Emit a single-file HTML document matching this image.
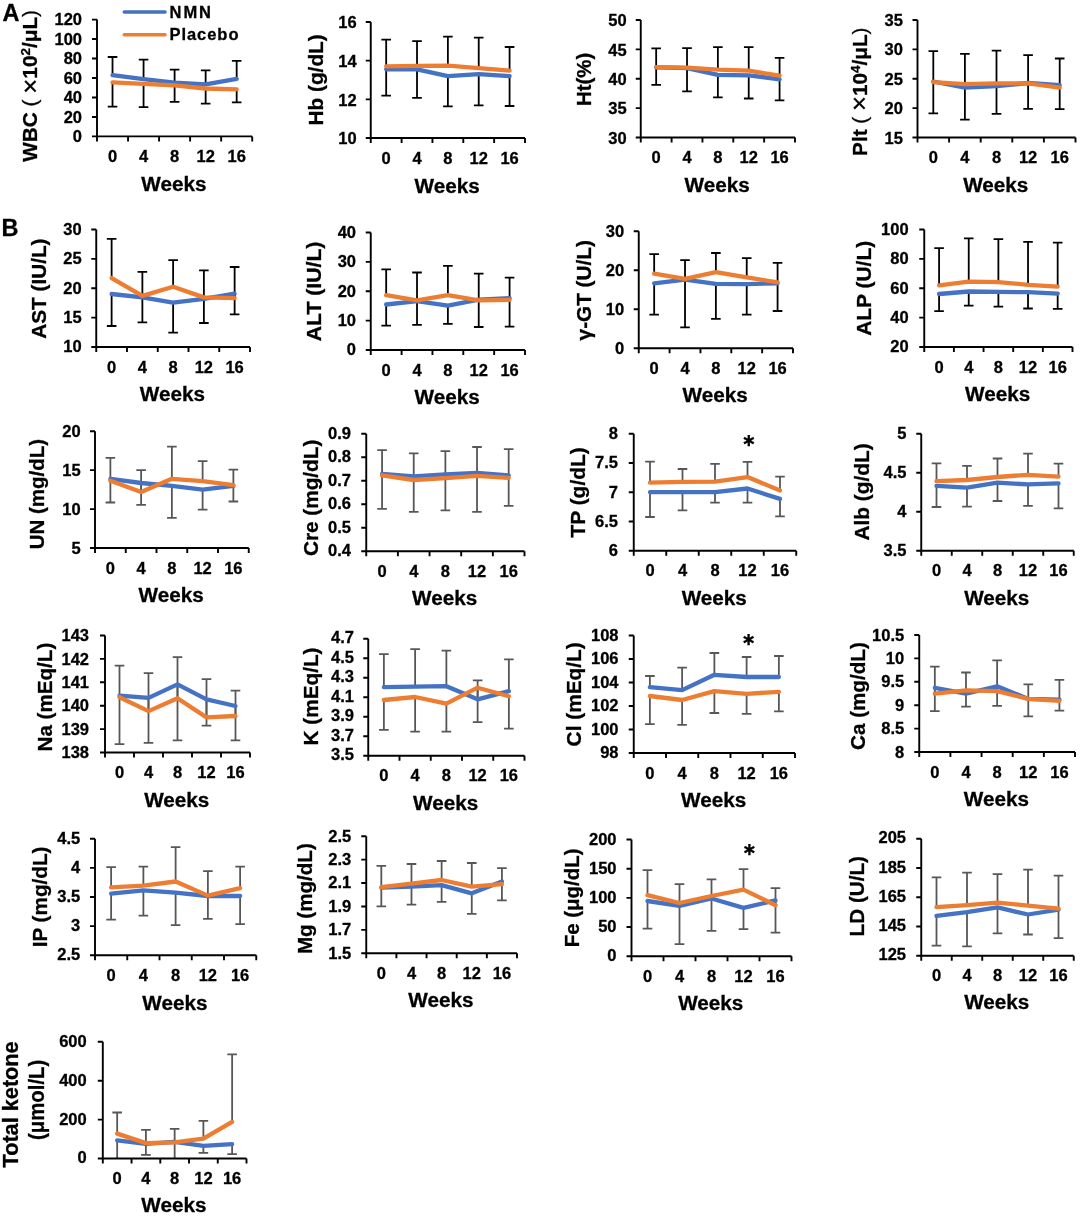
<!DOCTYPE html>
<html><head><meta charset="utf-8"><title>NMN blood tests</title>
<style>
html,body{margin:0;padding:0;background:#fff;}
body{width:1080px;height:1217px;overflow:hidden;}
svg{display:block;}
text{font-family:'Liberation Sans', Arial, sans-serif;font-weight:bold;fill:#000;stroke:#000;stroke-width:0.3px;}
</style></head><body>
<svg width="1080" height="1217" viewBox="0 0 1080 1217">
<rect width="1080" height="1217" fill="#fff"/>
<g stroke="#000" stroke-width="1.8" fill="none">
<path d="M112.52 75.2V57M107.72 57H117.32"/>
<path d="M112.52 82.3V106.7M107.72 106.7H117.32"/>
<path d="M143.56 79.2V59.6M138.76 59.6H148.36"/>
<path d="M143.56 83.8V107.2M138.76 107.2H148.36"/>
<path d="M174.6 82.6V69.6M169.8 69.6H179.4"/>
<path d="M174.6 85.3V101.9M169.8 101.9H179.4"/>
<path d="M205.64 84.4V70.4M200.84 70.4H210.44"/>
<path d="M205.64 88.5V103.6M200.84 103.6H210.44"/>
<path d="M236.68 78.9V60.8M231.88 60.8H241.48"/>
<path d="M236.68 89.3V102.3M231.88 102.3H241.48"/>
</g>
<polyline points="112.52,75.2 143.56,79.2 174.6,82.6 205.64,84.4 236.68,78.9" fill="none" stroke="#4472C4" stroke-width="4.3" stroke-linejoin="round" stroke-linecap="round"/>
<polyline points="112.52,82.3 143.56,83.8 174.6,85.3 205.64,88.5 236.68,89.3" fill="none" stroke="#ED7D31" stroke-width="4.3" stroke-linejoin="round" stroke-linecap="round"/>
<path d="M97 19.6V141.4M92 136.4H252.2M92 136.4H97M92 116.93H97M92 97.47H97M92 78H97M92 58.53H97M92 39.07H97M92 19.6H97M128.04 136.4V141.4M159.08 136.4V141.4M190.12 136.4V141.4M221.16 136.4V141.4M252.2 136.4V141.4" stroke="#000" stroke-width="1.9" fill="none"/>
<text x="82" y="142" font-size="16.5" text-anchor="end">0</text>
<text x="82" y="122.53" font-size="16.5" text-anchor="end">20</text>
<text x="82" y="103.07" font-size="16.5" text-anchor="end">40</text>
<text x="82" y="83.6" font-size="16.5" text-anchor="end">60</text>
<text x="82" y="64.13" font-size="16.5" text-anchor="end">80</text>
<text x="82" y="44.67" font-size="16.5" text-anchor="end">100</text>
<text x="82" y="25.2" font-size="16.5" text-anchor="end">120</text>
<text x="112.52" y="161.9" font-size="16.5" text-anchor="middle">0</text>
<text x="143.56" y="161.9" font-size="16.5" text-anchor="middle">4</text>
<text x="174.6" y="161.9" font-size="16.5" text-anchor="middle">8</text>
<text x="205.64" y="161.9" font-size="16.5" text-anchor="middle">12</text>
<text x="236.68" y="161.9" font-size="16.5" text-anchor="middle">16</text>
<text x="173.9" y="191.15" font-size="20.7" text-anchor="middle">Weeks</text>
<text transform="translate(37.1,161.8) rotate(-90)" font-size="20" textLength="151.8" lengthAdjust="spacingAndGlyphs">WBC <tspan font-weight="normal">(</tspan> <tspan font-weight="normal" font-size="25" dy="1.5">×</tspan><tspan dy="-1.5">10</tspan><tspan font-size="13" dy="-7">2</tspan><tspan dy="7">/μL</tspan><tspan font-weight="normal">)</tspan></text>
<g stroke="#000" stroke-width="1.8" fill="none">
<path d="M386.18 66.3V39.6M381.38 39.6H390.98"/>
<path d="M386.18 69.3V95.6M381.38 95.6H390.98"/>
<path d="M417.02 65.9V41.1M412.22 41.1H421.82"/>
<path d="M417.02 69.3V97.9M412.22 97.9H421.82"/>
<path d="M447.88 65.6V36.7M443.07 36.7H452.68"/>
<path d="M447.88 76.2V106.3M443.07 106.3H452.68"/>
<path d="M478.73 68.2V37.7M473.93 37.7H483.53"/>
<path d="M478.73 74.1V105.3M473.93 105.3H483.53"/>
<path d="M509.58 70.7V47M504.78 47H514.38"/>
<path d="M509.58 76.2V106M504.78 106H514.38"/>
</g>
<polyline points="386.18,69.3 417.02,69.3 447.88,76.2 478.73,74.1 509.58,76.2" fill="none" stroke="#4472C4" stroke-width="4.3" stroke-linejoin="round" stroke-linecap="round"/>
<polyline points="386.18,66.3 417.02,65.9 447.88,65.6 478.73,68.2 509.58,70.7" fill="none" stroke="#ED7D31" stroke-width="4.3" stroke-linejoin="round" stroke-linecap="round"/>
<path d="M370.75 22V143M365.75 138H525M365.75 138H370.75M365.75 99.33H370.75M365.75 60.67H370.75M365.75 22H370.75M401.6 138V143M432.45 138V143M463.3 138V143M494.15 138V143M525 138V143" stroke="#000" stroke-width="1.9" fill="none"/>
<text x="356.7" y="144.4" font-size="16.5" text-anchor="end">10</text>
<text x="356.7" y="105.73" font-size="16.5" text-anchor="end">12</text>
<text x="356.7" y="67.07" font-size="16.5" text-anchor="end">14</text>
<text x="356.7" y="28.4" font-size="16.5" text-anchor="end">16</text>
<text x="386.18" y="163.5" font-size="16.5" text-anchor="middle">0</text>
<text x="417.02" y="163.5" font-size="16.5" text-anchor="middle">4</text>
<text x="447.88" y="163.5" font-size="16.5" text-anchor="middle">8</text>
<text x="478.73" y="163.5" font-size="16.5" text-anchor="middle">12</text>
<text x="509.58" y="163.5" font-size="16.5" text-anchor="middle">16</text>
<text x="447.18" y="193.25" font-size="20.7" text-anchor="middle">Weeks</text>
<text transform="translate(323.1,125.5) rotate(-90)" font-size="20" textLength="91.2" lengthAdjust="spacingAndGlyphs">Hb (g/dL)</text>
<g stroke="#000" stroke-width="1.8" fill="none">
<path d="M656.17 67.1V48.4M651.38 48.4H660.97"/>
<path d="M656.17 67.4V84.9M651.38 84.9H660.97"/>
<path d="M687.02 67.7V48.1M682.23 48.1H691.82"/>
<path d="M687.02 68.1V91.4M682.23 91.4H691.82"/>
<path d="M717.88 69.6V47.1M713.08 47.1H722.67"/>
<path d="M717.88 74.8V97.3M713.08 97.3H722.67"/>
<path d="M748.73 70.7V47.1M743.93 47.1H753.52"/>
<path d="M748.73 75.3V98.5M743.93 98.5H753.52"/>
<path d="M779.58 75.6V57.8M774.78 57.8H784.38"/>
<path d="M779.58 79.3V100.3M774.78 100.3H784.38"/>
</g>
<polyline points="656.17,67.4 687.02,68.1 717.88,74.8 748.73,75.3 779.58,79.3" fill="none" stroke="#4472C4" stroke-width="4.3" stroke-linejoin="round" stroke-linecap="round"/>
<polyline points="656.17,67.1 687.02,67.7 717.88,69.6 748.73,70.7 779.58,75.6" fill="none" stroke="#ED7D31" stroke-width="4.3" stroke-linejoin="round" stroke-linecap="round"/>
<path d="M640.75 20V142.5M635.75 137.5H795M635.75 137.5H640.75M635.75 108.12H640.75M635.75 78.75H640.75M635.75 49.38H640.75M635.75 20H640.75M671.6 137.5V142.5M702.45 137.5V142.5M733.3 137.5V142.5M764.15 137.5V142.5M795 137.5V142.5" stroke="#000" stroke-width="1.9" fill="none"/>
<text x="626.7" y="143.8" font-size="16.5" text-anchor="end">30</text>
<text x="626.7" y="114.42" font-size="16.5" text-anchor="end">35</text>
<text x="626.7" y="85.05" font-size="16.5" text-anchor="end">40</text>
<text x="626.7" y="55.68" font-size="16.5" text-anchor="end">45</text>
<text x="626.7" y="26.3" font-size="16.5" text-anchor="end">50</text>
<text x="656.17" y="163" font-size="16.5" text-anchor="middle">0</text>
<text x="687.02" y="163" font-size="16.5" text-anchor="middle">4</text>
<text x="717.88" y="163" font-size="16.5" text-anchor="middle">8</text>
<text x="748.73" y="163" font-size="16.5" text-anchor="middle">12</text>
<text x="779.58" y="163" font-size="16.5" text-anchor="middle">16</text>
<text x="717.17" y="192.05" font-size="20.7" text-anchor="middle">Weeks</text>
<text transform="translate(591.3,105.9) rotate(-90)" font-size="20" textLength="53.1" lengthAdjust="spacingAndGlyphs">Ht(%)</text>
<g stroke="#000" stroke-width="1.8" fill="none">
<path d="M933.3 82.2V51.1M928.5 51.1H938.1"/>
<path d="M933.3 81.5V113.3M928.5 113.3H938.1"/>
<path d="M964.9 84.1V53.8M960.1 53.8H969.7"/>
<path d="M964.9 87.7V119.6M960.1 119.6H969.7"/>
<path d="M996.5 83.3V50.7M991.7 50.7H1001.3"/>
<path d="M996.5 86.2V113.8M991.7 113.8H1001.3"/>
<path d="M1028.1 83.4V55.1M1023.3 55.1H1032.9"/>
<path d="M1028.1 83V108.9M1023.3 108.9H1032.9"/>
<path d="M1059.7 87.7V58.5M1054.9 58.5H1064.5"/>
<path d="M1059.7 85.2V109.2M1054.9 109.2H1064.5"/>
</g>
<polyline points="933.3,81.5 964.9,87.7 996.5,86.2 1028.1,83 1059.7,85.2" fill="none" stroke="#4472C4" stroke-width="4.3" stroke-linejoin="round" stroke-linecap="round"/>
<polyline points="933.3,82.2 964.9,84.1 996.5,83.3 1028.1,83.4 1059.7,87.7" fill="none" stroke="#ED7D31" stroke-width="4.3" stroke-linejoin="round" stroke-linecap="round"/>
<path d="M917.5 20V142.5M912.5 137.5H1075.5M912.5 137.5H917.5M912.5 108.12H917.5M912.5 78.75H917.5M912.5 49.38H917.5M912.5 20H917.5M949.1 137.5V142.5M980.7 137.5V142.5M1012.3 137.5V142.5M1043.9 137.5V142.5M1075.5 137.5V142.5" stroke="#000" stroke-width="1.9" fill="none"/>
<text x="902.95" y="143.6" font-size="16.5" text-anchor="end">15</text>
<text x="902.95" y="114.22" font-size="16.5" text-anchor="end">20</text>
<text x="902.95" y="84.85" font-size="16.5" text-anchor="end">25</text>
<text x="902.95" y="55.48" font-size="16.5" text-anchor="end">30</text>
<text x="902.95" y="26.1" font-size="16.5" text-anchor="end">35</text>
<text x="933.3" y="163" font-size="16.5" text-anchor="middle">0</text>
<text x="964.9" y="163" font-size="16.5" text-anchor="middle">4</text>
<text x="996.5" y="163" font-size="16.5" text-anchor="middle">8</text>
<text x="1028.1" y="163" font-size="16.5" text-anchor="middle">12</text>
<text x="1059.7" y="163" font-size="16.5" text-anchor="middle">16</text>
<text x="995.8" y="192.05" font-size="20.7" text-anchor="middle">Weeks</text>
<text transform="translate(866.6,155.9) rotate(-90)" font-size="20" textLength="128.4" lengthAdjust="spacingAndGlyphs">Plt <tspan font-weight="normal">(</tspan> <tspan font-weight="normal" font-size="25" dy="1.5">×</tspan><tspan dy="-1.5">10</tspan><tspan font-size="13" dy="-7">4</tspan><tspan dy="7">/μL</tspan><tspan font-weight="normal">)</tspan></text>
<g stroke="#000" stroke-width="1.8" fill="none">
<path d="M111.62 278.1V238.9M106.83 238.9H116.42"/>
<path d="M111.62 294V326M106.83 326H116.42"/>
<path d="M142.38 295.9V271.9M137.57 271.9H147.18"/>
<path d="M142.38 297.4V322.3M137.57 322.3H147.18"/>
<path d="M173.12 286.7V260.1M168.32 260.1H177.93"/>
<path d="M173.12 302.6V332.7M168.32 332.7H177.93"/>
<path d="M203.88 297.4V270.4M199.07 270.4H208.68"/>
<path d="M203.88 298.9V323M199.07 323H208.68"/>
<path d="M234.62 298.1V267M229.82 267H239.43"/>
<path d="M234.62 293.7V314.4M229.82 314.4H239.43"/>
</g>
<polyline points="111.62,294 142.38,297.4 173.12,302.6 203.88,298.9 234.62,293.7" fill="none" stroke="#4472C4" stroke-width="4.3" stroke-linejoin="round" stroke-linecap="round"/>
<polyline points="111.62,278.1 142.38,295.9 173.12,286.7 203.88,297.4 234.62,298.1" fill="none" stroke="#ED7D31" stroke-width="4.3" stroke-linejoin="round" stroke-linecap="round"/>
<path d="M96.25 229.5V352M91.25 347H250M91.25 347H96.25M91.25 317.62H96.25M91.25 288.25H96.25M91.25 258.88H96.25M91.25 229.5H96.25M127 347V352M157.75 347V352M188.5 347V352M219.25 347V352M250 347V352" stroke="#000" stroke-width="1.9" fill="none"/>
<text x="81.7" y="352.4" font-size="16.5" text-anchor="end">10</text>
<text x="81.7" y="323.03" font-size="16.5" text-anchor="end">15</text>
<text x="81.7" y="293.65" font-size="16.5" text-anchor="end">20</text>
<text x="81.7" y="264.28" font-size="16.5" text-anchor="end">25</text>
<text x="81.7" y="234.9" font-size="16.5" text-anchor="end">30</text>
<text x="111.62" y="372.5" font-size="16.5" text-anchor="middle">0</text>
<text x="142.38" y="372.5" font-size="16.5" text-anchor="middle">4</text>
<text x="173.12" y="372.5" font-size="16.5" text-anchor="middle">8</text>
<text x="203.88" y="372.5" font-size="16.5" text-anchor="middle">12</text>
<text x="234.62" y="372.5" font-size="16.5" text-anchor="middle">16</text>
<text x="172.43" y="400.65" font-size="20.7" text-anchor="middle">Weeks</text>
<text transform="translate(46,338.7) rotate(-90)" font-size="20" textLength="100.2" lengthAdjust="spacingAndGlyphs">AST (IU/L)</text>
<g stroke="#000" stroke-width="1.8" fill="none">
<path d="M386.18 295.2V269.3M381.38 269.3H390.98"/>
<path d="M386.18 304.5V325.6M381.38 325.6H390.98"/>
<path d="M417.02 300.4V272.5M412.22 272.5H421.82"/>
<path d="M417.02 301.1V324.8M412.22 324.8H421.82"/>
<path d="M447.88 295.2V265.9M443.07 265.9H452.68"/>
<path d="M447.88 305.6V323.8M443.07 323.8H452.68"/>
<path d="M478.73 300.4V273.7M473.93 273.7H483.53"/>
<path d="M478.73 299.6V327M473.93 327H483.53"/>
<path d="M509.58 299.9V277.7M504.78 277.7H514.38"/>
<path d="M509.58 298.1V326.6M504.78 326.6H514.38"/>
</g>
<polyline points="386.18,304.5 417.02,301.1 447.88,305.6 478.73,299.6 509.58,298.1" fill="none" stroke="#4472C4" stroke-width="4.3" stroke-linejoin="round" stroke-linecap="round"/>
<polyline points="386.18,295.2 417.02,300.4 447.88,295.2 478.73,300.4 509.58,299.9" fill="none" stroke="#ED7D31" stroke-width="4.3" stroke-linejoin="round" stroke-linecap="round"/>
<path d="M370.75 232.5V355M365.75 350H525M365.75 350H370.75M365.75 320.62H370.75M365.75 291.25H370.75M365.75 261.88H370.75M365.75 232.5H370.75M401.6 350V355M432.45 350V355M463.3 350V355M494.15 350V355M525 350V355" stroke="#000" stroke-width="1.9" fill="none"/>
<text x="356.05" y="355.4" font-size="16.5" text-anchor="end">0</text>
<text x="356.05" y="326.03" font-size="16.5" text-anchor="end">10</text>
<text x="356.05" y="296.65" font-size="16.5" text-anchor="end">20</text>
<text x="356.05" y="267.28" font-size="16.5" text-anchor="end">30</text>
<text x="356.05" y="237.9" font-size="16.5" text-anchor="end">40</text>
<text x="386.18" y="375.5" font-size="16.5" text-anchor="middle">0</text>
<text x="417.02" y="375.5" font-size="16.5" text-anchor="middle">4</text>
<text x="447.88" y="375.5" font-size="16.5" text-anchor="middle">8</text>
<text x="478.73" y="375.5" font-size="16.5" text-anchor="middle">12</text>
<text x="509.58" y="375.5" font-size="16.5" text-anchor="middle">16</text>
<text x="447.18" y="404.05" font-size="20.7" text-anchor="middle">Weeks</text>
<text transform="translate(321,341.3) rotate(-90)" font-size="20" textLength="99.7" lengthAdjust="spacingAndGlyphs">ALT (IU/L)</text>
<g stroke="#000" stroke-width="1.8" fill="none">
<path d="M654.17 273.7V254.1M649.38 254.1H658.97"/>
<path d="M654.17 283.3V314.7M649.38 314.7H658.97"/>
<path d="M685.02 278.9V260.1M680.23 260.1H689.82"/>
<path d="M685.02 279.6V327.3M680.23 327.3H689.82"/>
<path d="M715.88 272.2V253M711.08 253H720.67"/>
<path d="M715.88 283.8V318.9M711.08 318.9H720.67"/>
<path d="M746.73 277.4V258.1M741.93 258.1H751.52"/>
<path d="M746.73 284.1V314.7M741.93 314.7H751.52"/>
<path d="M777.58 282.3V262.9M772.78 262.9H782.38"/>
<path d="M777.58 283.3V311M772.78 311H782.38"/>
</g>
<polyline points="654.17,283.3 685.02,279.6 715.88,283.8 746.73,284.1 777.58,283.3" fill="none" stroke="#4472C4" stroke-width="4.3" stroke-linejoin="round" stroke-linecap="round"/>
<polyline points="654.17,273.7 685.02,278.9 715.88,272.2 746.73,277.4 777.58,282.3" fill="none" stroke="#ED7D31" stroke-width="4.3" stroke-linejoin="round" stroke-linecap="round"/>
<path d="M638.75 231.25V353.25M633.75 348.25H793M633.75 348.25H638.75M633.75 309.25H638.75M633.75 270.25H638.75M633.75 231.25H638.75M669.6 348.25V353.25M700.45 348.25V353.25M731.3 348.25V353.25M762.15 348.25V353.25M793 348.25V353.25" stroke="#000" stroke-width="1.9" fill="none"/>
<text x="624.2" y="354.35" font-size="16.5" text-anchor="end">0</text>
<text x="624.2" y="315.35" font-size="16.5" text-anchor="end">10</text>
<text x="624.2" y="276.35" font-size="16.5" text-anchor="end">20</text>
<text x="624.2" y="237.35" font-size="16.5" text-anchor="end">30</text>
<text x="654.17" y="373.75" font-size="16.5" text-anchor="middle">0</text>
<text x="685.02" y="373.75" font-size="16.5" text-anchor="middle">4</text>
<text x="715.88" y="373.75" font-size="16.5" text-anchor="middle">8</text>
<text x="746.73" y="373.75" font-size="16.5" text-anchor="middle">12</text>
<text x="777.58" y="373.75" font-size="16.5" text-anchor="middle">16</text>
<text x="715.17" y="402.1" font-size="20.7" text-anchor="middle">Weeks</text>
<text transform="translate(591,340.4) rotate(-90)" font-size="20" textLength="100.2" lengthAdjust="spacingAndGlyphs">γ-GT (U/L)</text>
<g stroke="#000" stroke-width="1.8" fill="none">
<path d="M939.08 285.3V248.1M934.28 248.1H943.88"/>
<path d="M939.08 294V311.2M934.28 311.2H943.88"/>
<path d="M968.73 281.6V238.4M963.93 238.4H973.52"/>
<path d="M968.73 291.5V305.6M963.93 305.6H973.52"/>
<path d="M998.38 282.1V239.2M993.58 239.2H1003.17"/>
<path d="M998.38 291.9V306.7M993.58 306.7H1003.17"/>
<path d="M1028.03 284.8V241.9M1023.23 241.9H1032.83"/>
<path d="M1028.03 292.2V308.5M1023.23 308.5H1032.83"/>
<path d="M1057.67 286.6V242.6M1052.88 242.6H1062.47"/>
<path d="M1057.67 293.7V308.8M1052.88 308.8H1062.47"/>
</g>
<polyline points="939.08,294 968.73,291.5 998.38,291.9 1028.03,292.2 1057.67,293.7" fill="none" stroke="#4472C4" stroke-width="4.3" stroke-linejoin="round" stroke-linecap="round"/>
<polyline points="939.08,285.3 968.73,281.6 998.38,282.1 1028.03,284.8 1057.67,286.6" fill="none" stroke="#ED7D31" stroke-width="4.3" stroke-linejoin="round" stroke-linecap="round"/>
<path d="M924.25 229.5V352M919.25 347H1072.5M919.25 347H924.25M919.25 317.62H924.25M919.25 288.25H924.25M919.25 258.88H924.25M919.25 229.5H924.25M953.9 347V352M983.55 347V352M1013.2 347V352M1042.85 347V352M1072.5 347V352" stroke="#000" stroke-width="1.9" fill="none"/>
<text x="908.6" y="352.4" font-size="16.5" text-anchor="end">20</text>
<text x="908.6" y="323.03" font-size="16.5" text-anchor="end">40</text>
<text x="908.6" y="293.65" font-size="16.5" text-anchor="end">60</text>
<text x="908.6" y="264.28" font-size="16.5" text-anchor="end">80</text>
<text x="908.6" y="234.9" font-size="16.5" text-anchor="end">100</text>
<text x="939.08" y="372.5" font-size="16.5" text-anchor="middle">0</text>
<text x="968.73" y="372.5" font-size="16.5" text-anchor="middle">4</text>
<text x="998.38" y="372.5" font-size="16.5" text-anchor="middle">8</text>
<text x="1028.03" y="372.5" font-size="16.5" text-anchor="middle">12</text>
<text x="1057.67" y="372.5" font-size="16.5" text-anchor="middle">16</text>
<text x="997.67" y="400.65" font-size="20.7" text-anchor="middle">Weeks</text>
<text transform="translate(871,335.8) rotate(-90)" font-size="20" textLength="95" lengthAdjust="spacingAndGlyphs">ALP (U/L)</text>
<g stroke="#575757" stroke-width="1.8" fill="none">
<path d="M110.38 480.7V457.8M105.58 457.8H115.17"/>
<path d="M110.38 478.8V502.5M105.58 502.5H115.17"/>
<path d="M141.12 491.9V470.1M136.32 470.1H145.93"/>
<path d="M141.12 483V504.9M136.32 504.9H145.93"/>
<path d="M171.88 478.8V446.7M167.07 446.7H176.68"/>
<path d="M171.88 485.9V517.8M167.07 517.8H176.68"/>
<path d="M202.62 481.2V461.2M197.82 461.2H207.43"/>
<path d="M202.62 489.6V509.6M197.82 509.6H207.43"/>
<path d="M233.38 485.2V469.6M228.57 469.6H238.18"/>
<path d="M233.38 485.9V501.5M228.57 501.5H238.18"/>
</g>
<polyline points="110.38,478.8 141.12,483 171.88,485.9 202.62,489.6 233.38,485.9" fill="none" stroke="#4472C4" stroke-width="4.3" stroke-linejoin="round" stroke-linecap="round"/>
<polyline points="110.38,480.7 141.12,491.9 171.88,478.8 202.62,481.2 233.38,485.2" fill="none" stroke="#ED7D31" stroke-width="4.3" stroke-linejoin="round" stroke-linecap="round"/>
<path d="M95 431.25V553M90 548H248.75M90 548H95M90 509.08H95M90 470.17H95M90 431.25H95M125.75 548V553M156.5 548V553M187.25 548V553M218 548V553M248.75 548V553" stroke="#000" stroke-width="1.9" fill="none"/>
<text x="80.7" y="553.7" font-size="16.5" text-anchor="end">5</text>
<text x="80.7" y="514.78" font-size="16.5" text-anchor="end">10</text>
<text x="80.7" y="475.87" font-size="16.5" text-anchor="end">15</text>
<text x="80.7" y="436.95" font-size="16.5" text-anchor="end">20</text>
<text x="110.38" y="573.5" font-size="16.5" text-anchor="middle">0</text>
<text x="141.12" y="573.5" font-size="16.5" text-anchor="middle">4</text>
<text x="171.88" y="573.5" font-size="16.5" text-anchor="middle">8</text>
<text x="202.62" y="573.5" font-size="16.5" text-anchor="middle">12</text>
<text x="233.38" y="573.5" font-size="16.5" text-anchor="middle">16</text>
<text x="171.18" y="602.25" font-size="20.7" text-anchor="middle">Weeks</text>
<text transform="translate(43.7,549.3) rotate(-90)" font-size="20" textLength="110.4" lengthAdjust="spacingAndGlyphs">UN (mg/dL)</text>
<g stroke="#575757" stroke-width="1.8" fill="none">
<path d="M382.07 475.3V450.1M377.27 450.1H386.88"/>
<path d="M382.07 473.8V508.9M377.27 508.9H386.88"/>
<path d="M413.73 480V453.3M408.93 453.3H418.53"/>
<path d="M413.73 476.3V511.9M408.93 511.9H418.53"/>
<path d="M445.38 478.2V451.1M440.57 451.1H450.18"/>
<path d="M445.38 474.4V510.4M440.57 510.4H450.18"/>
<path d="M477.02 475.9V447M472.22 447H481.82"/>
<path d="M477.02 472.9V511.9M472.22 511.9H481.82"/>
<path d="M508.67 477.8V449.2M503.87 449.2H513.47"/>
<path d="M508.67 475.3V505.9M503.87 505.9H513.47"/>
</g>
<polyline points="382.07,473.8 413.73,476.3 445.38,474.4 477.02,472.9 508.67,475.3" fill="none" stroke="#4472C4" stroke-width="4.3" stroke-linejoin="round" stroke-linecap="round"/>
<polyline points="382.07,475.3 413.73,480 445.38,478.2 477.02,475.9 508.67,477.8" fill="none" stroke="#ED7D31" stroke-width="4.3" stroke-linejoin="round" stroke-linecap="round"/>
<path d="M366.25 433.75V556.25M361.25 551.25H524.5M361.25 551.25H366.25M361.25 527.75H366.25M361.25 504.25H366.25M361.25 480.75H366.25M361.25 457.25H366.25M361.25 433.75H366.25M397.9 551.25V556.25M429.55 551.25V556.25M461.2 551.25V556.25M492.85 551.25V556.25M524.5 551.25V556.25" stroke="#000" stroke-width="1.9" fill="none"/>
<text x="351.05" y="556.15" font-size="16.5" text-anchor="end">0.4</text>
<text x="351.05" y="532.65" font-size="16.5" text-anchor="end">0.5</text>
<text x="351.05" y="509.15" font-size="16.5" text-anchor="end">0.6</text>
<text x="351.05" y="485.65" font-size="16.5" text-anchor="end">0.7</text>
<text x="351.05" y="462.15" font-size="16.5" text-anchor="end">0.8</text>
<text x="351.05" y="438.65" font-size="16.5" text-anchor="end">0.9</text>
<text x="382.07" y="576.75" font-size="16.5" text-anchor="middle">0</text>
<text x="413.73" y="576.75" font-size="16.5" text-anchor="middle">4</text>
<text x="445.38" y="576.75" font-size="16.5" text-anchor="middle">8</text>
<text x="477.02" y="576.75" font-size="16.5" text-anchor="middle">12</text>
<text x="508.67" y="576.75" font-size="16.5" text-anchor="middle">16</text>
<text x="444.68" y="604.8" font-size="20.7" text-anchor="middle">Weeks</text>
<text transform="translate(318.2,556.1) rotate(-90)" font-size="20" textLength="116.5" lengthAdjust="spacingAndGlyphs">Cre (mg/dL)</text>
<g stroke="#575757" stroke-width="1.8" fill="none">
<path d="M650 482.6V461.6M645.2 461.6H654.8"/>
<path d="M650 492.2V517M645.2 517H654.8"/>
<path d="M682.5 481.9V469M677.7 469H687.3"/>
<path d="M682.5 492.2V510.4M677.7 510.4H687.3"/>
<path d="M715 481.6V463.8M710.2 463.8H719.8"/>
<path d="M715 492.2V502.6M710.2 502.6H719.8"/>
<path d="M747.5 477.1V461.9M742.7 461.9H752.3"/>
<path d="M747.5 488.5V502.6M742.7 502.6H752.3"/>
<path d="M780 490.4V476.7M775.2 476.7H784.8"/>
<path d="M780 498.9V516.4M775.2 516.4H784.8"/>
</g>
<polyline points="650,492.2 682.5,492.2 715,492.2 747.5,488.5 780,498.9" fill="none" stroke="#4472C4" stroke-width="4.3" stroke-linejoin="round" stroke-linecap="round"/>
<polyline points="650,482.6 682.5,481.9 715,481.6 747.5,477.1 780,490.4" fill="none" stroke="#ED7D31" stroke-width="4.3" stroke-linejoin="round" stroke-linecap="round"/>
<path d="M633.75 433.75V555.8M628.75 550.8H796.25M628.75 550.8H633.75M628.75 521.54H633.75M628.75 492.27H633.75M628.75 463.01H633.75M628.75 433.75H633.75M666.25 550.8V555.8M698.75 550.8V555.8M731.25 550.8V555.8M763.75 550.8V555.8M796.25 550.8V555.8" stroke="#000" stroke-width="1.9" fill="none"/>
<text x="617.95" y="556.1" font-size="16.5" text-anchor="end">6</text>
<text x="617.95" y="526.84" font-size="16.5" text-anchor="end">6.5</text>
<text x="617.95" y="497.57" font-size="16.5" text-anchor="end">7</text>
<text x="617.95" y="468.31" font-size="16.5" text-anchor="end">7.5</text>
<text x="617.95" y="439.05" font-size="16.5" text-anchor="end">8</text>
<text x="650" y="576.3" font-size="16.5" text-anchor="middle">0</text>
<text x="682.5" y="576.3" font-size="16.5" text-anchor="middle">4</text>
<text x="715" y="576.3" font-size="16.5" text-anchor="middle">8</text>
<text x="747.5" y="576.3" font-size="16.5" text-anchor="middle">12</text>
<text x="780" y="576.3" font-size="16.5" text-anchor="middle">16</text>
<text x="714.3" y="604.75" font-size="20.7" text-anchor="middle">Weeks</text>
<text transform="translate(585.4,537.5) rotate(-90)" font-size="20" textLength="90.2" lengthAdjust="spacingAndGlyphs">TP (g/dL)</text>
<text x="749" y="445.9" font-size="17.5" text-anchor="middle" style="font-family:'DejaVu Sans',sans-serif">∗</text>
<g stroke="#575757" stroke-width="1.8" fill="none">
<path d="M936.5 481.2V463.4M931.7 463.4H941.3"/>
<path d="M936.5 485.9V507M931.7 507H941.3"/>
<path d="M967 480V465.9M962.2 465.9H971.8"/>
<path d="M967 487.7V506.7M962.2 506.7H971.8"/>
<path d="M997.5 477V458.5M992.7 458.5H1002.3"/>
<path d="M997.5 482.7V501M992.7 501H1002.3"/>
<path d="M1028 474.8V453.6M1023.2 453.6H1032.8"/>
<path d="M1028 484.4V505.9M1023.2 505.9H1032.8"/>
<path d="M1058.5 476.7V463.7M1053.7 463.7H1063.3"/>
<path d="M1058.5 483.4V508.4M1053.7 508.4H1063.3"/>
</g>
<polyline points="936.5,485.9 967,487.7 997.5,482.7 1028,484.4 1058.5,483.4" fill="none" stroke="#4472C4" stroke-width="4.3" stroke-linejoin="round" stroke-linecap="round"/>
<polyline points="936.5,481.2 967,480 997.5,477 1028,474.8 1058.5,476.7" fill="none" stroke="#ED7D31" stroke-width="4.3" stroke-linejoin="round" stroke-linecap="round"/>
<path d="M921.25 433.75V555.75M916.25 550.75H1073.75M916.25 550.75H921.25M916.25 511.75H921.25M916.25 472.75H921.25M916.25 433.75H921.25M951.75 550.75V555.75M982.25 550.75V555.75M1012.75 550.75V555.75M1043.25 550.75V555.75M1073.75 550.75V555.75" stroke="#000" stroke-width="1.9" fill="none"/>
<text x="906.55" y="555.95" font-size="16.5" text-anchor="end">3.5</text>
<text x="906.55" y="516.95" font-size="16.5" text-anchor="end">4</text>
<text x="906.55" y="477.95" font-size="16.5" text-anchor="end">4.5</text>
<text x="906.55" y="438.95" font-size="16.5" text-anchor="end">5</text>
<text x="936.5" y="576.25" font-size="16.5" text-anchor="middle">0</text>
<text x="967" y="576.25" font-size="16.5" text-anchor="middle">4</text>
<text x="997.5" y="576.25" font-size="16.5" text-anchor="middle">8</text>
<text x="1028" y="576.25" font-size="16.5" text-anchor="middle">12</text>
<text x="1058.5" y="576.25" font-size="16.5" text-anchor="middle">16</text>
<text x="996.8" y="604.8" font-size="20.7" text-anchor="middle">Weeks</text>
<text transform="translate(868.7,540.5) rotate(-90)" font-size="20" textLength="97.1" lengthAdjust="spacingAndGlyphs">Alb (g/dL)</text>
<g stroke="#575757" stroke-width="1.8" fill="none">
<path d="M119.5 697.2V665.6M114.7 665.6H124.3"/>
<path d="M119.5 695.6V744.2M114.7 744.2H124.3"/>
<path d="M148.5 711.1V673.2M143.7 673.2H153.3"/>
<path d="M148.5 697.9V742.8M143.7 742.8H153.3"/>
<path d="M177.5 698.3V657.2M172.7 657.2H182.3"/>
<path d="M177.5 684.4V740.3M172.7 740.3H182.3"/>
<path d="M206.5 717.4V679.2M201.7 679.2H211.3"/>
<path d="M206.5 699.3V725.7M201.7 725.7H211.3"/>
<path d="M235.5 716V690.6M230.7 690.6H240.3"/>
<path d="M235.5 706V740.3M230.7 740.3H240.3"/>
</g>
<polyline points="119.5,695.6 148.5,697.9 177.5,684.4 206.5,699.3 235.5,706" fill="none" stroke="#4472C4" stroke-width="4.3" stroke-linejoin="round" stroke-linecap="round"/>
<polyline points="119.5,697.2 148.5,711.1 177.5,698.3 206.5,717.4 235.5,716" fill="none" stroke="#ED7D31" stroke-width="4.3" stroke-linejoin="round" stroke-linecap="round"/>
<path d="M105 635.5V757.5M100 752.5H250M100 752.5H105M100 729.1H105M100 705.7H105M100 682.3H105M100 658.9H105M100 635.5H105M134 752.5V757.5M163 752.5V757.5M192 752.5V757.5M221 752.5V757.5M250 752.5V757.5" stroke="#000" stroke-width="1.9" fill="none"/>
<text x="89.05" y="758.1" font-size="16.5" text-anchor="end">138</text>
<text x="89.05" y="734.7" font-size="16.5" text-anchor="end">139</text>
<text x="89.05" y="711.3" font-size="16.5" text-anchor="end">140</text>
<text x="89.05" y="687.9" font-size="16.5" text-anchor="end">141</text>
<text x="89.05" y="664.5" font-size="16.5" text-anchor="end">142</text>
<text x="89.05" y="641.1" font-size="16.5" text-anchor="end">143</text>
<text x="119.5" y="778" font-size="16.5" text-anchor="middle">0</text>
<text x="148.5" y="778" font-size="16.5" text-anchor="middle">4</text>
<text x="177.5" y="778" font-size="16.5" text-anchor="middle">8</text>
<text x="206.5" y="778" font-size="16.5" text-anchor="middle">12</text>
<text x="235.5" y="778" font-size="16.5" text-anchor="middle">16</text>
<text x="176.8" y="806.65" font-size="20.7" text-anchor="middle">Weeks</text>
<text transform="translate(52.1,751.5) rotate(-90)" font-size="20" textLength="108.8" lengthAdjust="spacingAndGlyphs">Na (mEq/L)</text>
<g stroke="#575757" stroke-width="1.8" fill="none">
<path d="M383.88 687.1V654.1M379.07 654.1H388.68"/>
<path d="M383.88 700V729.9M379.07 729.9H388.68"/>
<path d="M415.12 686.7V649.2M410.32 649.2H419.93"/>
<path d="M415.12 697V731.6M410.32 731.6H419.93"/>
<path d="M446.38 686.2V650.7M441.57 650.7H451.18"/>
<path d="M446.38 703.7V731.6M441.57 731.6H451.18"/>
<path d="M477.62 699.3V680.4M472.82 680.4H482.43"/>
<path d="M477.62 687.7V722.2M472.82 722.2H482.43"/>
<path d="M508.88 691.1V659.3M504.07 659.3H513.67"/>
<path d="M508.88 696.3V728.6M504.07 728.6H513.67"/>
</g>
<polyline points="383.88,687.1 415.12,686.7 446.38,686.2 477.62,699.3 508.88,691.1" fill="none" stroke="#4472C4" stroke-width="4.3" stroke-linejoin="round" stroke-linecap="round"/>
<polyline points="383.88,700 415.12,697 446.38,703.7 477.62,687.7 508.88,696.3" fill="none" stroke="#ED7D31" stroke-width="4.3" stroke-linejoin="round" stroke-linecap="round"/>
<path d="M368.25 638.75V760.75M363.25 755.75H524.5M363.25 755.75H368.25M363.25 736.25H368.25M363.25 716.75H368.25M363.25 697.25H368.25M363.25 677.75H368.25M363.25 658.25H368.25M363.25 638.75H368.25M399.5 755.75V760.75M430.75 755.75V760.75M462 755.75V760.75M493.25 755.75V760.75M524.5 755.75V760.75" stroke="#000" stroke-width="1.9" fill="none"/>
<text x="354" y="760.25" font-size="16.5" text-anchor="end">3.5</text>
<text x="354" y="740.75" font-size="16.5" text-anchor="end">3.7</text>
<text x="354" y="721.25" font-size="16.5" text-anchor="end">3.9</text>
<text x="354" y="701.75" font-size="16.5" text-anchor="end">4.1</text>
<text x="354" y="682.25" font-size="16.5" text-anchor="end">4.3</text>
<text x="354" y="662.75" font-size="16.5" text-anchor="end">4.5</text>
<text x="354" y="643.25" font-size="16.5" text-anchor="end">4.7</text>
<text x="383.88" y="781.25" font-size="16.5" text-anchor="middle">0</text>
<text x="415.12" y="781.25" font-size="16.5" text-anchor="middle">4</text>
<text x="446.38" y="781.25" font-size="16.5" text-anchor="middle">8</text>
<text x="477.62" y="781.25" font-size="16.5" text-anchor="middle">12</text>
<text x="508.88" y="781.25" font-size="16.5" text-anchor="middle">16</text>
<text x="445.68" y="809.6" font-size="20.7" text-anchor="middle">Weeks</text>
<text transform="translate(318.2,745.4) rotate(-90)" font-size="20" textLength="97.9" lengthAdjust="spacingAndGlyphs">K (mEq/L)</text>
<g stroke="#575757" stroke-width="1.8" fill="none">
<path d="M649.88 687.1V676M645.08 676H654.67"/>
<path d="M649.88 696V724.1M645.08 724.1H654.67"/>
<path d="M682.12 690.1V667.7M677.33 667.7H686.92"/>
<path d="M682.12 700V724.9M677.33 724.9H686.92"/>
<path d="M714.38 674.8V653M709.58 653H719.17"/>
<path d="M714.38 691.1V713M709.58 713H719.17"/>
<path d="M746.62 677V657M741.83 657H751.42"/>
<path d="M746.62 693.8V713.8M741.83 713.8H751.42"/>
<path d="M778.88 677V656M774.08 656H783.67"/>
<path d="M778.88 691.9V711.4M774.08 711.4H783.67"/>
</g>
<polyline points="649.88,687.1 682.12,690.1 714.38,674.8 746.62,677 778.88,677" fill="none" stroke="#4472C4" stroke-width="4.3" stroke-linejoin="round" stroke-linecap="round"/>
<polyline points="649.88,696 682.12,700 714.38,691.1 746.62,693.8 778.88,691.9" fill="none" stroke="#ED7D31" stroke-width="4.3" stroke-linejoin="round" stroke-linecap="round"/>
<path d="M633.75 635.5V758M628.75 753H795M628.75 753H633.75M628.75 729.5H633.75M628.75 706H633.75M628.75 682.5H633.75M628.75 659H633.75M628.75 635.5H633.75M666 753V758M698.25 753V758M730.5 753V758M762.75 753V758M795 753V758" stroke="#000" stroke-width="1.9" fill="none"/>
<text x="618.5" y="758.4" font-size="16.5" text-anchor="end">98</text>
<text x="618.5" y="734.9" font-size="16.5" text-anchor="end">100</text>
<text x="618.5" y="711.4" font-size="16.5" text-anchor="end">102</text>
<text x="618.5" y="687.9" font-size="16.5" text-anchor="end">104</text>
<text x="618.5" y="664.4" font-size="16.5" text-anchor="end">106</text>
<text x="618.5" y="640.9" font-size="16.5" text-anchor="end">108</text>
<text x="649.88" y="778.5" font-size="16.5" text-anchor="middle">0</text>
<text x="682.12" y="778.5" font-size="16.5" text-anchor="middle">4</text>
<text x="714.38" y="778.5" font-size="16.5" text-anchor="middle">8</text>
<text x="746.62" y="778.5" font-size="16.5" text-anchor="middle">12</text>
<text x="778.88" y="778.5" font-size="16.5" text-anchor="middle">16</text>
<text x="713.67" y="806.65" font-size="20.7" text-anchor="middle">Weeks</text>
<text transform="translate(580.5,746.4) rotate(-90)" font-size="20" textLength="104.2" lengthAdjust="spacingAndGlyphs">Cl (mEq/L)</text>
<text x="748.75" y="644.95" font-size="17.5" text-anchor="middle" style="font-family:'DejaVu Sans',sans-serif">∗</text>
<g stroke="#575757" stroke-width="1.8" fill="none">
<path d="M934.83 693.7V666.6M930.03 666.6H939.62"/>
<path d="M934.83 687.8V711.2M930.03 711.2H939.62"/>
<path d="M965.98 690.3V672.5M961.18 672.5H970.77"/>
<path d="M965.98 693.7V706.7M961.18 706.7H970.77"/>
<path d="M997.12 691.2V660.4M992.33 660.4H1001.92"/>
<path d="M997.12 686.3V705.9M992.33 705.9H1001.92"/>
<path d="M1028.28 698.9V684.4M1023.48 684.4H1033.08"/>
<path d="M1028.28 698.9V716.4M1023.48 716.4H1033.08"/>
<path d="M1059.42 700.8V679.9M1054.62 679.9H1064.22"/>
<path d="M1059.42 699.6V710.7M1054.62 710.7H1064.22"/>
</g>
<polyline points="934.83,687.8 965.98,693.7 997.12,686.3 1028.28,698.9 1059.42,699.6" fill="none" stroke="#4472C4" stroke-width="4.3" stroke-linejoin="round" stroke-linecap="round"/>
<polyline points="934.83,693.7 965.98,690.3 997.12,691.2 1028.28,698.9 1059.42,700.8" fill="none" stroke="#ED7D31" stroke-width="4.3" stroke-linejoin="round" stroke-linecap="round"/>
<path d="M919.25 635V757M914.25 752H1075M914.25 752H919.25M914.25 728.6H919.25M914.25 705.2H919.25M914.25 681.8H919.25M914.25 658.4H919.25M914.25 635H919.25M950.4 752V757M981.55 752V757M1012.7 752V757M1043.85 752V757M1075 752V757" stroke="#000" stroke-width="1.9" fill="none"/>
<text x="904.2" y="757.5" font-size="16.5" text-anchor="end">8</text>
<text x="904.2" y="734.1" font-size="16.5" text-anchor="end">8.5</text>
<text x="904.2" y="710.7" font-size="16.5" text-anchor="end">9</text>
<text x="904.2" y="687.3" font-size="16.5" text-anchor="end">9.5</text>
<text x="904.2" y="663.9" font-size="16.5" text-anchor="end">10</text>
<text x="904.2" y="640.5" font-size="16.5" text-anchor="end">10.5</text>
<text x="934.83" y="777.5" font-size="16.5" text-anchor="middle">0</text>
<text x="965.98" y="777.5" font-size="16.5" text-anchor="middle">4</text>
<text x="997.12" y="777.5" font-size="16.5" text-anchor="middle">8</text>
<text x="1028.28" y="777.5" font-size="16.5" text-anchor="middle">12</text>
<text x="1059.42" y="777.5" font-size="16.5" text-anchor="middle">16</text>
<text x="996.42" y="806.15" font-size="20.7" text-anchor="middle">Weeks</text>
<text transform="translate(864.5,750) rotate(-90)" font-size="20" textLength="107.8" lengthAdjust="spacingAndGlyphs">Ca (mg/dL)</text>
<g stroke="#575757" stroke-width="1.8" fill="none">
<path d="M111.12 887.4V867.1M106.33 867.1H115.92"/>
<path d="M111.12 893.6V919.6M106.33 919.6H115.92"/>
<path d="M143.38 885.6V866.7M138.57 866.7H148.18"/>
<path d="M143.38 890.4V915.6M138.57 915.6H148.18"/>
<path d="M175.62 881.5V847.1M170.82 847.1H180.43"/>
<path d="M175.62 892.6V925.2M170.82 925.2H180.43"/>
<path d="M207.88 895.6V871.1M203.07 871.1H212.68"/>
<path d="M207.88 896V918.8M203.07 918.8H212.68"/>
<path d="M240.12 888.1V866.7M235.32 866.7H244.93"/>
<path d="M240.12 896V924.1M235.32 924.1H244.93"/>
</g>
<polyline points="111.12,893.6 143.38,890.4 175.62,892.6 207.88,896 240.12,896" fill="none" stroke="#4472C4" stroke-width="4.3" stroke-linejoin="round" stroke-linecap="round"/>
<polyline points="111.12,887.4 143.38,885.6 175.62,881.5 207.88,895.6 240.12,888.1" fill="none" stroke="#ED7D31" stroke-width="4.3" stroke-linejoin="round" stroke-linecap="round"/>
<path d="M95 838.75V960.3M90 955.3H256.25M90 955.3H95M90 926.16H95M90 897.02H95M90 867.89H95M90 838.75H95M127.25 955.3V960.3M159.5 955.3V960.3M191.75 955.3V960.3M224 955.3V960.3M256.25 955.3V960.3" stroke="#000" stroke-width="1.9" fill="none"/>
<text x="80.3" y="960.3" font-size="16.5" text-anchor="end">2.5</text>
<text x="80.3" y="931.16" font-size="16.5" text-anchor="end">3</text>
<text x="80.3" y="902.02" font-size="16.5" text-anchor="end">3.5</text>
<text x="80.3" y="872.89" font-size="16.5" text-anchor="end">4</text>
<text x="80.3" y="843.75" font-size="16.5" text-anchor="end">4.5</text>
<text x="111.12" y="980.8" font-size="16.5" text-anchor="middle">0</text>
<text x="143.38" y="980.8" font-size="16.5" text-anchor="middle">4</text>
<text x="175.62" y="980.8" font-size="16.5" text-anchor="middle">8</text>
<text x="207.88" y="980.8" font-size="16.5" text-anchor="middle">12</text>
<text x="240.12" y="980.8" font-size="16.5" text-anchor="middle">16</text>
<text x="174.93" y="1009.65" font-size="20.7" text-anchor="middle">Weeks</text>
<text transform="translate(46.5,947.3) rotate(-90)" font-size="20" textLength="100.7" lengthAdjust="spacingAndGlyphs">IP (mg/dL)</text>
<g stroke="#575757" stroke-width="1.8" fill="none">
<path d="M381.32 887.1V865.9M376.52 865.9H386.12"/>
<path d="M381.32 887.7V906.4M376.52 906.4H386.12"/>
<path d="M411.48 883.7V864M406.68 864H416.28"/>
<path d="M411.48 886.7V904.7M406.68 904.7H416.28"/>
<path d="M441.62 880V861M436.82 861H446.43"/>
<path d="M441.62 885.2V901.9M436.82 901.9H446.43"/>
<path d="M471.77 886.7V863M466.97 863H476.57"/>
<path d="M471.77 893.3V913.8M466.97 913.8H476.57"/>
<path d="M501.92 884.1V868.1M497.12 868.1H506.72"/>
<path d="M501.92 881.5V900.3M497.12 900.3H506.72"/>
</g>
<polyline points="381.32,887.7 411.48,886.7 441.62,885.2 471.77,893.3 501.92,881.5" fill="none" stroke="#4472C4" stroke-width="4.3" stroke-linejoin="round" stroke-linecap="round"/>
<polyline points="381.32,887.1 411.48,883.7 441.62,880 471.77,886.7 501.92,884.1" fill="none" stroke="#ED7D31" stroke-width="4.3" stroke-linejoin="round" stroke-linecap="round"/>
<path d="M366.25 836.25V958.25M361.25 953.25H517M361.25 953.25H366.25M361.25 929.85H366.25M361.25 906.45H366.25M361.25 883.05H366.25M361.25 859.65H366.25M361.25 836.25H366.25M396.4 953.25V958.25M426.55 953.25V958.25M456.7 953.25V958.25M486.85 953.25V958.25M517 953.25V958.25" stroke="#000" stroke-width="1.9" fill="none"/>
<text x="351.2" y="958.55" font-size="16.5" text-anchor="end">1.5</text>
<text x="351.2" y="935.15" font-size="16.5" text-anchor="end">1.7</text>
<text x="351.2" y="911.75" font-size="16.5" text-anchor="end">1.9</text>
<text x="351.2" y="888.35" font-size="16.5" text-anchor="end">2.1</text>
<text x="351.2" y="864.95" font-size="16.5" text-anchor="end">2.3</text>
<text x="351.2" y="841.55" font-size="16.5" text-anchor="end">2.5</text>
<text x="381.32" y="978.75" font-size="16.5" text-anchor="middle">0</text>
<text x="411.48" y="978.75" font-size="16.5" text-anchor="middle">4</text>
<text x="441.62" y="978.75" font-size="16.5" text-anchor="middle">8</text>
<text x="471.77" y="978.75" font-size="16.5" text-anchor="middle">12</text>
<text x="501.92" y="978.75" font-size="16.5" text-anchor="middle">16</text>
<text x="440.93" y="1007.1" font-size="20.7" text-anchor="middle">Weeks</text>
<text transform="translate(312.2,954.1) rotate(-90)" font-size="20" textLength="110.9" lengthAdjust="spacingAndGlyphs">Mg (mg/dL)</text>
<g stroke="#575757" stroke-width="1.8" fill="none">
<path d="M647.5 895.1V870.1M642.7 870.1H652.3"/>
<path d="M647.5 901V928.6M642.7 928.6H652.3"/>
<path d="M679.5 903V884.1M674.7 884.1H684.3"/>
<path d="M679.5 905.9V944.1M674.7 944.1H684.3"/>
<path d="M711.5 896V879.3M706.7 879.3H716.3"/>
<path d="M711.5 898.5V930.8M706.7 930.8H716.3"/>
<path d="M743.5 889.6V869.2M738.7 869.2H748.3"/>
<path d="M743.5 907.9V929.2M738.7 929.2H748.3"/>
<path d="M775.5 905.2V888.1M770.7 888.1H780.3"/>
<path d="M775.5 900.4V932.6M770.7 932.6H780.3"/>
</g>
<polyline points="647.5,901 679.5,905.9 711.5,898.5 743.5,907.9 775.5,900.4" fill="none" stroke="#4472C4" stroke-width="4.3" stroke-linejoin="round" stroke-linecap="round"/>
<polyline points="647.5,895.1 679.5,903 711.5,896 743.5,889.6 775.5,905.2" fill="none" stroke="#ED7D31" stroke-width="4.3" stroke-linejoin="round" stroke-linecap="round"/>
<path d="M631.5 839.5V961.25M626.5 956.25H791.5M626.5 956.25H631.5M626.5 927.06H631.5M626.5 897.88H631.5M626.5 868.69H631.5M626.5 839.5H631.5M663.5 956.25V961.25M695.5 956.25V961.25M727.5 956.25V961.25M759.5 956.25V961.25M791.5 956.25V961.25" stroke="#000" stroke-width="1.9" fill="none"/>
<text x="616.5" y="961.35" font-size="16.5" text-anchor="end">0</text>
<text x="616.5" y="932.16" font-size="16.5" text-anchor="end">50</text>
<text x="616.5" y="902.98" font-size="16.5" text-anchor="end">100</text>
<text x="616.5" y="873.79" font-size="16.5" text-anchor="end">150</text>
<text x="616.5" y="844.6" font-size="16.5" text-anchor="end">200</text>
<text x="647.5" y="981.75" font-size="16.5" text-anchor="middle">0</text>
<text x="679.5" y="981.75" font-size="16.5" text-anchor="middle">4</text>
<text x="711.5" y="981.75" font-size="16.5" text-anchor="middle">8</text>
<text x="743.5" y="981.75" font-size="16.5" text-anchor="middle">12</text>
<text x="775.5" y="981.75" font-size="16.5" text-anchor="middle">16</text>
<text x="710.8" y="1010.1" font-size="20.7" text-anchor="middle">Weeks</text>
<text transform="translate(579,947.3) rotate(-90)" font-size="20" textLength="98.8" lengthAdjust="spacingAndGlyphs">Fe (μg/dL)</text>
<text x="749.5" y="855.4" font-size="17.5" text-anchor="middle" style="font-family:'DejaVu Sans',sans-serif">∗</text>
<g stroke="#575757" stroke-width="1.8" fill="none">
<path d="M936.5 907.1V877.3M931.7 877.3H941.3"/>
<path d="M936.5 915.9V945.6M931.7 945.6H941.3"/>
<path d="M967 905.2V872.6M962.2 872.6H971.8"/>
<path d="M967 912.1V946.4M962.2 946.4H971.8"/>
<path d="M997.5 902.7V874.1M992.7 874.1H1002.3"/>
<path d="M997.5 907.4V933.3M992.7 933.3H1002.3"/>
<path d="M1028 905.6V869.6M1023.2 869.6H1032.8"/>
<path d="M1028 914.5V934.5M1023.2 934.5H1032.8"/>
<path d="M1058.5 908.6V875.6M1053.7 875.6H1063.3"/>
<path d="M1058.5 909.6V938.2M1053.7 938.2H1063.3"/>
</g>
<polyline points="936.5,915.9 967,912.1 997.5,907.4 1028,914.5 1058.5,909.6" fill="none" stroke="#4472C4" stroke-width="4.3" stroke-linejoin="round" stroke-linecap="round"/>
<polyline points="936.5,907.1 967,905.2 997.5,902.7 1028,905.6 1058.5,908.6" fill="none" stroke="#ED7D31" stroke-width="4.3" stroke-linejoin="round" stroke-linecap="round"/>
<path d="M921.25 838.75V960.75M916.25 955.75H1073.75M916.25 955.75H921.25M916.25 926.5H921.25M916.25 897.25H921.25M916.25 868H921.25M916.25 838.75H921.25M951.75 955.75V960.75M982.25 955.75V960.75M1012.75 955.75V960.75M1043.25 955.75V960.75M1073.75 955.75V960.75" stroke="#000" stroke-width="1.9" fill="none"/>
<text x="906" y="960.45" font-size="16.5" text-anchor="end">125</text>
<text x="906" y="931.2" font-size="16.5" text-anchor="end">145</text>
<text x="906" y="901.95" font-size="16.5" text-anchor="end">165</text>
<text x="906" y="872.7" font-size="16.5" text-anchor="end">185</text>
<text x="906" y="843.45" font-size="16.5" text-anchor="end">205</text>
<text x="936.5" y="981.25" font-size="16.5" text-anchor="middle">0</text>
<text x="967" y="981.25" font-size="16.5" text-anchor="middle">4</text>
<text x="997.5" y="981.25" font-size="16.5" text-anchor="middle">8</text>
<text x="1028" y="981.25" font-size="16.5" text-anchor="middle">12</text>
<text x="1058.5" y="981.25" font-size="16.5" text-anchor="middle">16</text>
<text x="996.8" y="1009.2" font-size="20.7" text-anchor="middle">Weeks</text>
<text transform="translate(864.2,936.4) rotate(-90)" font-size="20" textLength="80.4" lengthAdjust="spacingAndGlyphs">LD (U/L)</text>
<g stroke="#575757" stroke-width="1.8" fill="none">
<path d="M117.17 1133.6V1112.5M112.37 1112.5H121.97"/>
<path d="M117.17 1140.3V1158.5"/>
<path d="M145.91 1143.1V1129.9M141.11 1129.9H150.71"/>
<path d="M145.91 1143.8V1154.9M141.11 1154.9H150.71"/>
<path d="M174.65 1142.4V1128.9M169.85 1128.9H179.45"/>
<path d="M174.65 1141.9V1158.5"/>
<path d="M203.39 1138.6V1120.8M198.59 1120.8H208.19"/>
<path d="M203.39 1145.8V1152.8M198.59 1152.8H208.19"/>
<path d="M232.13 1121.9V1054.4M227.33 1054.4H236.93"/>
<path d="M232.13 1144.2V1154.2M227.33 1154.2H236.93"/>
</g>
<polyline points="117.17,1140.3 145.91,1143.8 174.65,1141.9 203.39,1145.8 232.13,1144.2" fill="none" stroke="#4472C4" stroke-width="4.3" stroke-linejoin="round" stroke-linecap="round"/>
<polyline points="117.17,1133.6 145.91,1143.1 174.65,1142.4 203.39,1138.6 232.13,1121.9" fill="none" stroke="#ED7D31" stroke-width="4.3" stroke-linejoin="round" stroke-linecap="round"/>
<path d="M102.8 1041.8V1163.5M97.8 1158.5H246.5M97.8 1158.5H102.8M97.8 1119.6H102.8M97.8 1080.7H102.8M97.8 1041.8H102.8M131.54 1158.5V1163.5M160.28 1158.5V1163.5M189.02 1158.5V1163.5M217.76 1158.5V1163.5M246.5 1158.5V1163.5" stroke="#000" stroke-width="1.9" fill="none"/>
<text x="86.7" y="1163.4" font-size="16.5" text-anchor="end">0</text>
<text x="86.7" y="1124.5" font-size="16.5" text-anchor="end">200</text>
<text x="86.7" y="1085.6" font-size="16.5" text-anchor="end">400</text>
<text x="86.7" y="1046.7" font-size="16.5" text-anchor="end">600</text>
<text x="117.17" y="1184" font-size="16.5" text-anchor="middle">0</text>
<text x="145.91" y="1184" font-size="16.5" text-anchor="middle">4</text>
<text x="174.65" y="1184" font-size="16.5" text-anchor="middle">8</text>
<text x="203.39" y="1184" font-size="16.5" text-anchor="middle">12</text>
<text x="232.13" y="1184" font-size="16.5" text-anchor="middle">16</text>
<text x="173.95" y="1212.35" font-size="20.7" text-anchor="middle">Weeks</text>
<text x="2.6" y="20.8" font-size="23.5">A</text>
<text x="1.4" y="235.9" font-size="23.5">B</text>

<line x1="124.3" y1="12" x2="165" y2="12" stroke="#4472C4" stroke-width="3.6" stroke-linecap="round"/>
<line x1="124.3" y1="34.7" x2="165" y2="34.7" stroke="#ED7D31" stroke-width="3.6" stroke-linecap="round"/>
<text x="169.5" y="17.8" font-size="16.5" textLength="41.5" lengthAdjust="spacing">NMN</text>
<text x="169.5" y="40.2" font-size="16.5" textLength="69" lengthAdjust="spacing">Placebo</text>
<text transform="translate(18.4,1167.5) rotate(-90)" font-size="22" textLength="126.2" lengthAdjust="spacingAndGlyphs">Total ketone</text>
<text transform="translate(43.5,1140) rotate(-90)" font-size="22" textLength="80.3" lengthAdjust="spacingAndGlyphs">(μmol/L)</text>
</svg>
</body></html>
